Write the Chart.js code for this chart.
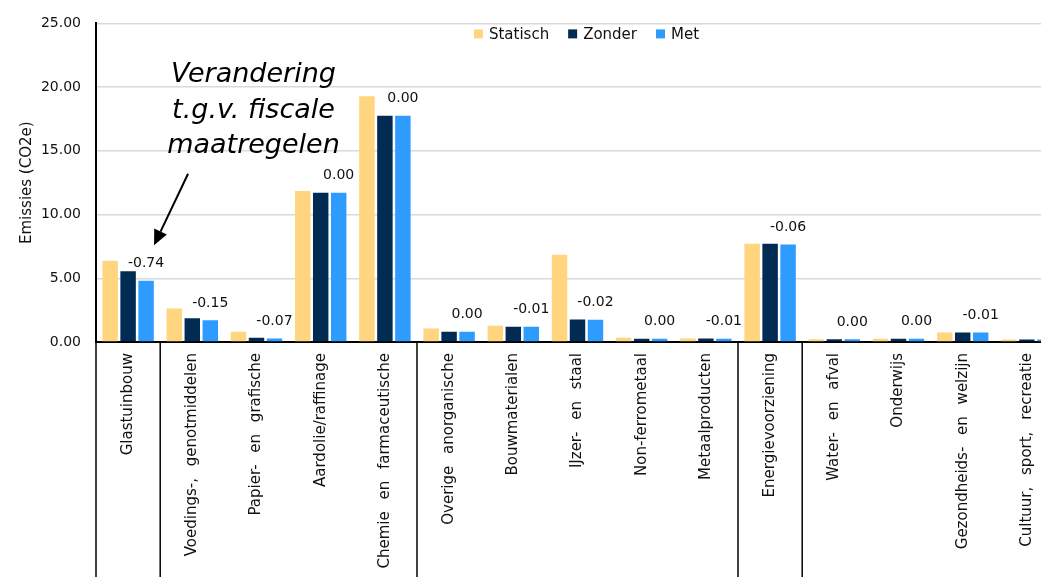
<!DOCTYPE html>
<html>
<head>
<meta charset="utf-8">
<script src="https://cdn.jsdelivr.net/npm/chart.js@4.4.1/dist/chart.umd.min.js"></script>
<style>
  html, body { margin: 0; padding: 0; background: #ffffff; overflow: hidden; }
  #wrap { position: absolute; left: 0; top: 0; width: 1059px; height: 577px; }
</style>
</head>
<body>
<div id="wrap"><canvas id="c" width="1059" height="577"></canvas></div>
<script>
const categorieen = [
  'Glastuinbouw', 'Voedings-, genotmiddelen', 'Papier- en grafische', 'Aardolie/raffinage',
  'Chemie en farmaceutische', 'Overige anorganische', 'Bouwmaterialen', 'IJzer- en staal',
  'Non-ferrometaal', 'Metaalproducten', 'Energievoorziening', 'Water- en afval',
  'Onderwijs', 'Gezondheids- en welzijn', 'Cultuur, sport, recreatie'
];
const statisch = [6.38, 2.62, 0.80, 11.84, 19.29, 1.06, 1.27, 6.85, 0.34, 0.28, 7.71, 0.21, 0.26, 0.75, 0.20];
const zonder   = [5.55, 1.86, 0.34, 11.71, 17.76, 0.80, 1.20, 1.77, 0.26, 0.27, 7.71, 0.21, 0.26, 0.75, 0.20];
const met      = [4.81, 1.71, 0.27, 11.71, 17.76, 0.80, 1.19, 1.75, 0.26, 0.26, 7.65, 0.21, 0.26, 0.74, 0.20];
const verschil = ['-0.74', '-0.15', '-0.07', '0.00', '0.00', '0.00', '-0.01', '-0.02', '0.00', '-0.01', '-0.06', '0.00', '0.00', '-0.01', null];
const groepStart = [0, 1, 5, 10, 11, 15];
const yTicks = [0, 5, 10, 15, 20, 25];
const annotatie = ['Verandering', 't.g.v. fiscale', 'maatregelen'];

const FONT = '"DejaVu Sans", Verdana, sans-serif';
const TXT = '#111111';

const wideWords = {
  id: 'wideWords',
  afterUpdate(chart) {
    const xs = chart.scales.x;
    if (!xs || xs._wideWordsPatched) return;
    const orig = xs.drawLabels;
    xs.drawLabels = function (area) {
      const c = this.ctx;
      const prev = c.wordSpacing;
      c.wordSpacing = '7px';
      orig.call(this, area);
      c.wordSpacing = prev || '0px';
    };
    xs._wideWordsPatched = true;
  }
};

const separators = {
  id: 'separators',
  afterDraw(chart) {
    const xs = chart.scales.x, ctx = chart.ctx, ca = chart.chartArea;
    const step = xs.getPixelForValue(1) - xs.getPixelForValue(0);
    ctx.save();
    ctx.strokeStyle = '#000';
    ctx.lineWidth = 1.5;
    groepStart.forEach(i => {
      const px = xs.getPixelForValue(i) - step / 2;
      ctx.beginPath();
      ctx.moveTo(px, ca.bottom);
      ctx.lineTo(px, chart.height);
      ctx.stroke();
    });
    ctx.restore();
  }
};

const valueLabels = {
  id: 'valueLabels',
  afterDatasetsDraw(chart) {
    const meta = chart.getDatasetMeta(2), ctx = chart.ctx;
    ctx.save();
    ctx.font = '14px ' + FONT;
    ctx.fillStyle = TXT;
    ctx.textAlign = 'center';
    ctx.textBaseline = 'middle';
    meta.data.forEach((bar, i) => {
      if (verschil[i] == null) return;
      ctx.fillText(verschil[i], bar.x, bar.y - 17);
    });
    ctx.restore();
  }
};

const customLegend = {
  id: 'customLegend',
  afterDraw(chart) {
    const ctx = chart.ctx, ca = chart.chartArea;
    ctx.save();
    ctx.font = '15px ' + FONT;
    const box = 9, gap = 6, itemGap = 19;
    const items = chart.data.datasets.map(d => ({ label: d.label, color: d.backgroundColor, w: ctx.measureText(d.label).width }));
    const total = items.reduce((s, it) => s + box + gap + it.w, 0) + itemGap * (items.length - 1);
    let x = (ca.left + ca.right) / 2 + 9 - total / 2;
    const y = ca.top + 10.5;
    ctx.textBaseline = 'middle';
    ctx.textAlign = 'left';
    items.forEach(it => {
      ctx.fillStyle = it.color;
      ctx.fillRect(x, y - box / 2, box, box);
      ctx.fillStyle = TXT;
      ctx.fillText(it.label, x + box + gap, y + 1);
      x += box + gap + it.w + itemGap;
    });
    ctx.restore();
  }
};

const annotation = {
  id: 'annotation',
  afterDraw(chart) {
    const xs = chart.scales.x, ys = chart.scales.y, ctx = chart.ctx;
    ctx.save();
    ctx.font = 'italic 27px ' + FONT;
    ctx.fillStyle = '#000';
    ctx.textAlign = 'center';
    ctx.textBaseline = 'alphabetic';
    const cx = xs.getPixelForValue(2) - 3;
    const y0 = ys.getPixelForValue(20.4);
    annotatie.forEach((t, i) => ctx.fillText(t, cx, y0 + i * 35.5));
    const bar = chart.getDatasetMeta(2).data[0];
    const tx = bar.x + 8, ty = ys.getPixelForValue(7.6);
    const sx = tx + 34, sy = ys.getPixelForValue(13.2);
    const ang = Math.atan2(ty - sy, tx - sx);
    const hl = 15, hw = 7;
    const bx = tx - hl * Math.cos(ang), by = ty - hl * Math.sin(ang);
    ctx.strokeStyle = '#000';
    ctx.lineWidth = 2;
    ctx.beginPath();
    ctx.moveTo(sx, sy);
    ctx.lineTo(bx, by);
    ctx.stroke();
    ctx.beginPath();
    ctx.moveTo(tx, ty);
    ctx.lineTo(bx + hw * Math.sin(ang), by - hw * Math.cos(ang));
    ctx.lineTo(bx - hw * Math.sin(ang), by + hw * Math.cos(ang));
    ctx.closePath();
    ctx.fill();
    ctx.restore();
  }
};

new Chart(document.getElementById('c'), {
  type: 'bar',
  data: {
    labels: categorieen,
    datasets: [
      { label: 'Statisch', data: statisch, backgroundColor: '#FFD57F' },
      { label: 'Zonder', data: zonder, backgroundColor: '#012B52' },
      { label: 'Met', data: met, backgroundColor: '#2E9BFF' }
    ]
  },
  options: {
    responsive: false,
    animation: false,
    devicePixelRatio: 1,
    layout: { padding: { top: 21, left: 0, right: 0, bottom: 0 } },
    datasets: { bar: { categoryPercentage: 0.84, barPercentage: 0.86 } },
    plugins: {
      legend: { display: false },
      tooltip: { enabled: false }
    },
    scales: {
      x: {
        grid: { display: false, drawTicks: false },
        border: { display: true, color: '#000', width: 2 },
        ticks: {
          autoSkip: false,
          maxRotation: 90,
          minRotation: 90,
          padding: 11,
          color: TXT,
          font: { family: FONT, size: 15 }
        },
        afterFit(s) { s.height = 235; s.paddingLeft = 0; s.paddingRight = 0; }
      },
      y: {
        min: 0,
        max: 25,
        afterBuildTicks(s) { s.ticks = yTicks.map(v => ({ value: v })); },
        grid: { color: '#d9d9d9', lineWidth: 1.5, drawTicks: false },
        border: { display: true, color: '#000', width: 2 },
        ticks: {
          padding: 15,
          color: TXT,
          font: { family: FONT, size: 14 },
          callback: v => Number(v).toFixed(2)
        },
        title: {
          display: true,
          text: 'Emissies (CO2e)',
          color: TXT,
          font: { family: FONT, size: 15 },
          padding: { top: 18, bottom: 0 }
        },
        afterFit(s) { s.width = 96; }
      }
    }
  },
  plugins: [wideWords, separators, valueLabels, customLegend, annotation]
});
</script>
</body>
</html>
